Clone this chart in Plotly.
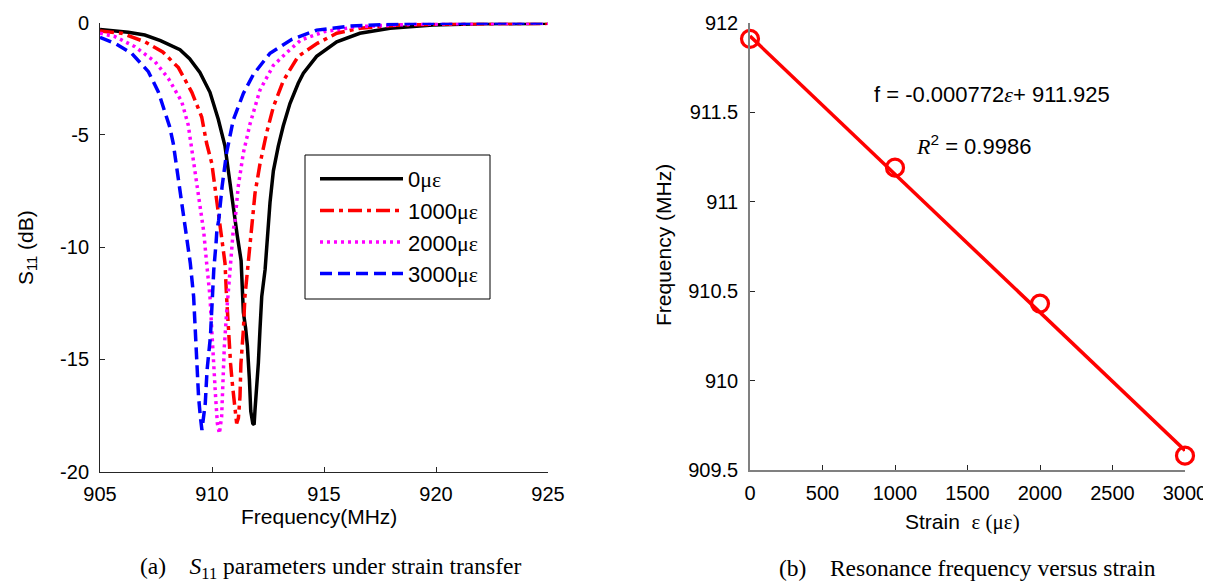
import plotly.graph_objects as go

# ---------------- data: (a) S11 curves ----------------
f_0 = [905.0, 906.26, 907.0, 907.7, 908.57, 909.0, 909.46, 909.91, 910.28, 910.58, 910.73, 910.88,
       911.03, 911.13, 911.30, 911.36, 911.40, 911.50, 911.58, 911.67, 911.73, 911.82, 911.88, 911.92,
       912.00, 912.07, 912.14, 912.22, 912.37, 912.44, 912.51, 912.59, 912.74, 912.96, 913.18, 913.48,
       913.85, 914.08, 914.67, 915.57, 916.6, 917.95, 919.87, 922.0, 925.0]
s_0 = [-0.30, -0.43, -0.55, -0.80, -1.20, -1.6, -2.22, -3.1, -4.3, -5.5, -6.6, -7.75,
       -8.8, -9.5, -10.6, -11.9, -12.9, -13.6, -14.4, -15.9, -17.3, -17.85, -17.9, -17.25,
       -16.2, -15.15, -13.7, -12.2, -11.0, -10.0, -9.5, -8.0, -6.6, -5.5, -4.6, -3.6,
       -2.7, -2.25, -1.5, -0.85, -0.47, -0.25, -0.10, -0.05, -0.03]

f_1000 = [905.0, 905.97, 907.0, 907.8, 908.5, 909.1, 909.54, 909.76, 909.99, 910.13, 910.28, 910.43,
          910.58, 910.65, 910.73, 910.83, 910.92, 911.03, 911.10, 911.18, 911.25, 911.29, 911.40, 911.47,
          911.58, 911.67, 911.75, 911.92, 912.14, 912.44, 912.74, 913.18, 913.6, 913.85, 914.7, 915.57,
          916.6, 918.4, 921.0, 925.0]
s_1000 = [-0.37, -0.47, -0.85, -1.3, -2.0, -3.1, -4.2, -5.37, -6.26, -7.3, -8.2, -9.4,
          -10.7, -12.2, -13.7, -15.2, -16.2, -17.25, -17.85, -17.6, -16.65, -15.2, -13.7, -12.2,
          -11.0, -10.0, -9.3, -7.6, -6.3, -4.9, -3.75, -2.6, -1.9, -1.5, -0.92, -0.47,
          -0.25, -0.10, -0.05, -0.03]

f_2000 = [905.0, 905.67, 906.56, 907.46, 908.05, 908.65, 908.94, 909.10, 909.25, 909.40, 909.55, 909.63,
          909.76, 909.91, 909.99, 910.06, 910.16, 910.24, 910.33, 910.43, 910.48, 910.55, 910.65, 910.77,
          910.88, 910.95, 911.03, 911.17, 911.40, 911.70, 912.14, 912.74, 913.48, 913.97, 915.0, 916.46,
          919.1, 925.0]
s_2000 = [-0.47, -0.62, -1.07, -1.74, -2.48, -3.52, -4.56, -5.6, -6.6, -7.6, -8.6, -9.3,
          -10.7, -12.2, -13.7, -15.2, -16.66, -17.85, -18.3, -17.55, -15.9, -14.43, -12.95, -11.46,
          -10.4, -9.23, -8.8, -7.3, -5.8, -4.5, -3.0, -1.9, -1.2, -0.77, -0.40, -0.18,
          -0.06, -0.02]

f_3000 = [905.0, 905.67, 906.41, 907.16, 907.6, 907.9, 908.1, 908.27, 908.42, 908.57, 908.72, 908.85,
          909.03, 909.18, 909.25, 909.33, 909.40, 909.48, 909.55, 909.70, 909.78, 909.93, 910.00, 910.08,
          910.18, 910.22, 910.30, 910.45, 910.65, 910.95, 911.40, 911.85, 912.59, 913.55, 914.67, 916.16,
          919.1, 925.0]
s_3000 = [-0.65, -0.92, -1.36, -2.18, -3.07, -3.96, -4.6, -5.37, -6.41, -7.45, -8.49, -9.38,
          -10.7, -12.2, -13.7, -15.2, -16.66, -17.55, -18.14, -16.95, -15.47, -13.98, -12.5, -11.0,
          -9.83, -9.23, -8.8, -7.3, -5.8, -4.33, -3.15, -2.3, -1.36, -0.75, -0.33, -0.15,
          -0.03, -0.01]

series_names = ["0", "1000", "2000", "3000"]

# ---------------- data: (b) resonance vs strain ----------------
strain = [0, 1000, 2000, 3000]
res_freq = [911.91, 911.19, 910.43, 909.58]
fit_slope = -0.000772
fit_intercept = 911.925
r_squared = 0.9986

a_xticks = [905, 910, 915, 920, 925]
a_yticks = [0, -5, -10, -15, -20]
b_xticks = [0, 500, 1000, 1500, 2000, 2500, 3000]
b_yticks = [909.5, 910, 910.5, 911, 911.5, 912]

SANS = "Liberation Sans, Arial, sans-serif"
SERIF = "Liberation Serif, Times New Roman, serif"
WIN_W, WIN_H = 1211, 584
OFF = 8  # default page body margin
W, H = WIN_W - OFF, WIN_H - OFF

def px(x):
    return (x - OFF) / W

def py(y):
    return 1 - (y - OFF) / H

def mu_eps(prefix):
    return prefix + "<span style='font-family:Liberation Serif'>με</span>"

fig = go.Figure()

styles = [
    dict(color="#000000", dash="solid"),
    dict(color="#ff0000", dash="14px,5px,4px,5px"),
    dict(color="#ff00ff", dash="3px,4px"),
    dict(color="#0000ff", dash="12px,6px"),
]
curves = [(f_0, s_0), (f_1000, s_1000), (f_2000, s_2000), (f_3000, s_3000)]
for (fx, sy), name, st in zip(curves, series_names, styles):
    fig.add_trace(go.Scatter(
        x=fx, y=sy, mode="lines", name=mu_eps(name), legendgroup=name,
        line=dict(color=st["color"], dash=st["dash"], width=3.5),
        xaxis="x", yaxis="y"))

# fit line from coefficients
fit_x = [strain[0], strain[-1]]
fit_y = [fit_intercept + fit_slope * v for v in fit_x]
fig.add_trace(go.Scatter(x=fit_x, y=fit_y, mode="lines", showlegend=False,
                         line=dict(color="#ff0000", width=3.5), xaxis="x2", yaxis="y2",
                         cliponaxis=False))
fig.add_trace(go.Scatter(x=strain, y=res_freq, mode="markers", showlegend=False,
                         marker=dict(symbol="circle-open", size=17, color="#ff0000",
                                     line=dict(width=3.2, color="#ff0000")),
                         xaxis="x2", yaxis="y2", cliponaxis=False))

axis_common = dict(showgrid=False, zeroline=False, showline=True, ticks="inside", ticklen=5,
                   automargin=False, tickfont=dict(family=SANS, size=20, color="#000"))

fig.update_layout(
    template="none",
    width=W, height=H, margin=dict(l=0, r=0, t=0, b=0, pad=0, autoexpand=False),
    paper_bgcolor="white", plot_bgcolor="white",
    font=dict(family=SANS, size=20, color="#000"),
    xaxis=dict(domain=[px(100), px(548)], range=[905, 925], tickvals=a_xticks,
               ticktext=[str(v) for v in a_xticks], linecolor="#262626", tickcolor="#262626",
               linewidth=1, anchor="y", ticklabelstandoff=4, **axis_common),
    yaxis=dict(domain=[py(471.7), py(22.7)], range=[-20, 0], tickvals=a_yticks,
               ticktext=[str(v) for v in a_yticks], linecolor="#262626",
               tickcolor="#262626", linewidth=1, anchor="x", ticklabelstandoff=6, **axis_common),
    xaxis2=dict(domain=[px(750), px(1185)], range=[0, 3000], tickvals=b_xticks,
                ticktext=[str(v) for v in b_xticks], linecolor="#808080", tickcolor="#262626",
                linewidth=1.5, anchor="y2", ticklabelstandoff=4, **axis_common),
    yaxis2=dict(domain=[py(470), py(22.7)], range=[909.5, 912], tickvals=b_yticks,
                ticktext=[("%g" % v) for v in b_yticks], linecolor="#808080", tickcolor="#262626",
                linewidth=1.5, anchor="x2", ticklabelstandoff=6, **axis_common),
    legend=dict(x=px(315), y=py(158), xanchor="left", yanchor="top",
                bgcolor="rgba(0,0,0,0)", borderwidth=0,
                font=dict(family=SANS, size=22, color="#000"),
                itemwidth=83, tracegroupgap=13, traceorder="normal"),
    showlegend=True,
    shapes=[dict(type="rect", xref="paper", yref="paper", x0=px(305), x1=px(490),
                 y0=py(299), y1=py(155), line=dict(color="#000", width=1),
                 fillcolor="white", layer="above")],
)

annos = [
    dict(text="Frequency(MHz)", x=px(319), y=py(516), font=dict(family=SANS, size=21, color="#000")),
    dict(text="S<sub>11</sub> (dB)", x=px(27), y=py(248), textangle=-90,
         font=dict(family=SANS, size=21, color="#000")),
    dict(text="Frequency (MHz)", x=px(664), y=py(245), textangle=-90,
         font=dict(family=SANS, size=21, color="#000")),
    dict(text="Strain  " + "<span style='font-family:Liberation Serif'>ε (με)</span>",
         x=px(962), y=py(522), font=dict(family=SANS, size=21, color="#000")),
    dict(text="f = -0.000772<span style='font-family:Liberation Serif'><i>ε</i></span>+ 911.925",
         x=px(992), y=py(95), font=dict(family=SANS, size=22, color="#000")),
    dict(text="<span style='font-family:Liberation Serif'><i>R</i></span><sup>2</sup> = %.4f" % r_squared,
         x=px(973), y=py(145), font=dict(family=SANS, size=22, color="#000")),
    dict(text="(a)\u00a0\u00a0\u00a0\u00a0<i>S</i><sub>11</sub> parameters under strain transfer",
         x=px(330), y=py(568), font=dict(family=SERIF, size=23.5, color="#000")),
    dict(text="(b)\u00a0\u00a0\u00a0\u00a0Resonance frequency versus strain",
         x=px(967), y=py(568), font=dict(family=SERIF, size=23.5, color="#000")),
]
for a in annos:
    base = dict(xref="paper", yref="paper", showarrow=False, xanchor="center", yanchor="middle")
    base.update(a)
    fig.add_annotation(**base)

fig.write_html("out.html")
